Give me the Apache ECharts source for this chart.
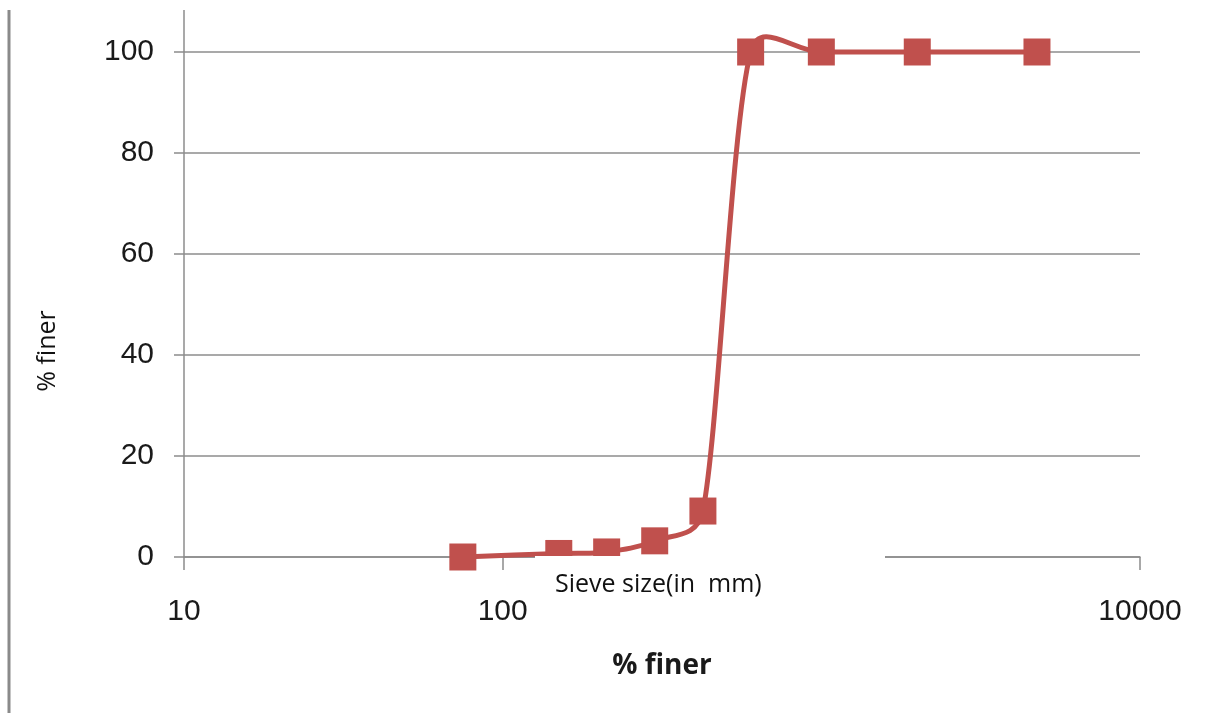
<!DOCTYPE html>
<html>
<head>
<meta charset="utf-8">
<script src="https://cdn.jsdelivr.net/npm/echarts@6/dist/echarts.min.js"></script>
<style>
  html, body { margin: 0; padding: 0; background: #fff; }
  #chart { width: 1207px; height: 713px; }
</style>
</head>
<body>
<div id="chart"></div>
<script>
// Sieve sizes and cumulative percentage passing
const sieveSizes = [75, 150, 212, 300, 425, 600, 1000, 2000, 4750];
const percentFiner = [0, 0.7, 1.0, 3.2, 9.1, 100, 100, 100, 100];
const yTicks = [0, 20, 40, 60, 80, 100];
const xTicks = [10, 100, 1000, 10000];

const red = '#c0504d';
const grey = '#8c8c8c';
const numFont = '"Liberation Sans", sans-serif';
const textFont = '"Open Sans", sans-serif';

const points = sieveSizes.map((s, i) => [s, percentFiner[i]]);

// Smoothed curve through the points (cubic Bezier, tangent from neighbours,
// handle length capped at half of the adjacent segment), built in pixel space.
function smoothPath(px) {
  const n = px.length;
  const dist = (a, b) => Math.hypot(b[0] - a[0], b[1] - a[1]);
  const handles = px.map((p, i) => {
    const prev = px[Math.max(0, i - 1)];
    const next = px[Math.min(n - 1, i + 1)];
    const tx = next[0] - prev[0], ty = next[1] - prev[1];
    const tl = Math.hypot(tx, ty) || 1;
    const base = tl / 6;
    const lin = i > 0 ? Math.min(base, dist(prev, p) / 2) : 0;
    const lout = i < n - 1 ? Math.min(base, dist(p, next) / 2) : 0;
    return {
      inP: [p[0] - tx / tl * lin, p[1] - ty / tl * lin],
      outP: [p[0] + tx / tl * lout, p[1] + ty / tl * lout]
    };
  });
  let d = 'M' + px[0][0] + ' ' + px[0][1];
  for (let i = 0; i < n - 1; i++) {
    const c1 = handles[i].outP, c2 = handles[i + 1].inP, e = px[i + 1];
    d += ' C' + c1[0] + ' ' + c1[1] + ' ' + c2[0] + ' ' + c2[1] + ' ' + e[0] + ' ' + e[1];
  }
  return d;
}

const chart = echarts.init(document.getElementById('chart'));
chart.setOption({
  animation: false,
  backgroundColor: '#ffffff',
  grid: { left: 184, right: 67, top: 52, bottom: 156 },
  xAxis: {
    type: 'log',
    logBase: 10,
    min: xTicks[0],
    max: xTicks[xTicks.length - 1],
    axisLine: { lineStyle: { color: grey, width: 1.5 } },
    axisTick: { show: true, inside: false, length: 13, lineStyle: { color: grey, width: 1.5 } },
    axisLabel: { fontSize: 30, color: '#1a1a1a', fontFamily: numFont, margin: 40,
                 formatter: v => String(Math.round(v)) },
    splitLine: { show: false },
    minorTick: { show: false },
    name: '% finer',
    nameLocation: 'middle',
    nameGap: 95,
    nameTextStyle: { fontSize: 28, fontWeight: 'bold', color: '#1a1a1a', fontFamily: textFont }
  },
  yAxis: {
    type: 'value',
    min: yTicks[0],
    max: yTicks[yTicks.length - 1],
    interval: yTicks[1] - yTicks[0],
    axisLine: { show: true, lineStyle: { color: grey, width: 1.5 } },
    axisTick: { show: true, inside: false, length: 10, lineStyle: { color: grey, width: 1.5 } },
    axisLabel: { fontSize: 30, color: '#1a1a1a', fontFamily: numFont, margin: 30 },
    splitLine: { show: true, lineStyle: { color: grey, width: 1.5 } }
  },
  series: [{
    type: 'custom',
    data: points,
    clip: false,
    z: 4,
    renderItem: (params, api) => {
      if (params.dataIndex !== 0) return null;
      const px = points.map(p => api.coord(p));
      return {
        type: 'path',
        shape: { pathData: smoothPath(px) },
        style: { fill: 'none', stroke: red, lineWidth: 5 }
      };
    }
  }, {
    type: 'scatter',
    data: points,
    symbol: 'rect',
    symbolSize: 27,
    itemStyle: { color: red, opacity: 1 },
    z: 5
  }],
  graphic: [
    // outer frame edge on the left
    { type: 'line', z: 1, shape: { x1: 9, y1: 10, x2: 9, y2: 713 },
      style: { stroke: '#8a8a8a', lineWidth: 3 } },
    // value axis continues above the top gridline
    { type: 'line', z: 1, shape: { x1: 184, y1: 10, x2: 184, y2: 52 },
      style: { stroke: grey, lineWidth: 1.5 } },
    // vertical axis title
    { type: 'text', z: 10, x: 48, y: 351, rotation: Math.PI / 2,
      style: { text: '% finer', fontSize: 25, fill: '#111', fontFamily: textFont,
               align: 'center', verticalAlign: 'middle' } },
    // text box laid over the horizontal axis
    { type: 'rect', z: 200, shape: { x: 535, y: 556, width: 350, height: 72 },
      style: { fill: '#ffffff' } },
    { type: 'text', z: 201, x: 555, y: 585,
      style: { text: 'Sieve size(in  mm)', fontSize: 25, fill: '#111',
               fontFamily: textFont, verticalAlign: 'middle' } }
  ]
});
</script>
</body>
</html>
